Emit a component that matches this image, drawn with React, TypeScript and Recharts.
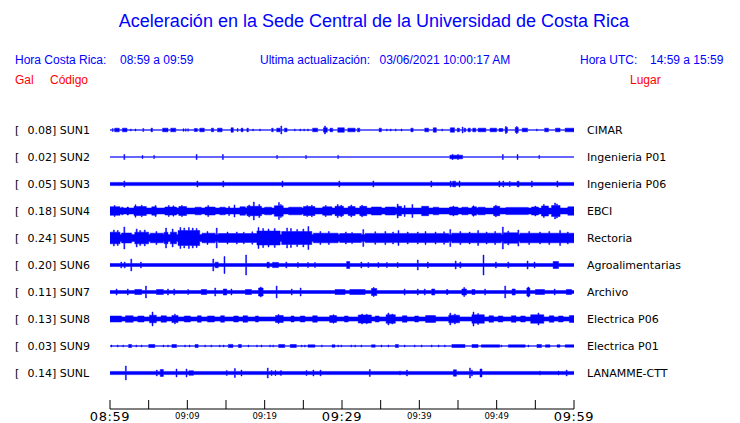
import React from 'react';
import { ComposedChart, Area, XAxis, YAxis } from 'recharts';

// ---- data ----
const codes = ['SUN1', 'SUN2', 'SUN3', 'SUN4', 'SUN5', 'SUN6', 'SUN7', 'SUN8', 'SUN9', 'SUNL'];
const galValues = ['0.08', '0.02', '0.05', '0.18', '0.24', '0.20', '0.11', '0.13', '0.03', '0.14'];
const places = ['CIMAR', 'Ingenieria P01', 'Ingenieria P06', 'EBCI', 'Rectoria', 'Agroalimentarias', 'Archivo', 'Electrica P06', 'Electrica P01', 'LANAMME-CTT'];
// half-width of the quiet band of each trace (counts)
const baseHalf = [0.35, 0.35, 1.6, 3.0, 3.4, 1.5, 1.5, 2.1, 0.35, 1.6];

// events: [minute, halfAmp] (single spike) or [fromMinute, toMinute, halfAmp] (burst)
type Ev = number[];
const sun1: Ev[] = [
  [0.3, 0.4, 1.5], [0.6, 1.2, 1.8], [1.6, 2.2, 1.8], [2.7, 1], [3.3, 1], [4.3, 1.5], [5.3, 5.5, 1.8],
  [6.8, 7.5, 1.8], [7.85, 8.5, 1.8], [9.5, 1.2], [9.8, 1.2], [10.1, 1.2], [10.9, 11.3, 1.5], [11.6, 12.2, 1.8],
  [13.1, 13.4, 1.8], [13.9, 14.5, 1.8], [15.65, 15.95, 2.2], [16.5, 1.5], [16.95, 17.2, 1.8], [17.7, 17.9, 1.8],
  [18.5, 1], [19.4, 1], [20.9, 21.1, 1.8], [21.55, 22, 1.8], [22.15, 4], [22.55, 22.9, 1.8], [23.9, 1], [24.6, 1],
  [25.1, 1], [25.6, 1], [26.2, 26.85, 1.8], [27.6, 28.1, 2.2], [27.8, 4], [28.45, 28.8, 1.8], [29.45, 30.3, 2.2],
  [30.75, 31.7, 1.8], [32.0, 32.3, 1.8], [34.8, 35.1, 1.8], [35.8, 1], [36.3, 1], [36.95, 1], [37.7, 1],
  [38.9, 39.2, 1.8], [40.7, 41.2, 1.8], [41.8, 42.2, 2.2], [42.95, 1], [44.0, 44.55, 2.2], [44.9, 45.2, 1.8],
  [45.6, 3], [45.8, 46.0, 1.8], [46.3, 46.6, 1.8], [46.9, 47.3, 1.8], [47.6, 48.6, 1.8], [49.15, 50.0, 1.8],
  [50.3, 50.8, 1.5], [51.1, 51.4, 2.5], [51.2, 3.5], [52.4, 52.8, 2.5], [52.6, 3.5], [53.3, 54, 1.8], [55.2, 1],
  [56.2, 56.7, 1.8], [57.6, 58.2, 1.8], [58.85, 60, 1.8],
];
const sun2: Ev[] = [
  [1.85, 2.5], [4.2, 1.5], [5.7, 1.5], [11.2, 2.5], [14.6, 2.5], [21.6, 1.5], [25.35, 1.5], [29.5, 1.5],
  [43.95, 45.6, 1.8], [44.3, 2.5], [45.0, 2.5], [50.8, 2.5], [52.7, 2.5], [55.5, 1.5],
];
const sun3: Ev[] = [
  [1.85, 3], [11.3, 3], [14.65, 3], [22.3, 3], [29.65, 3], [34.05, 3], [41.55, 3], [44.05, 3],
  [44.3, 44.7, 2.8], [45.2, 3], [50.35, 3], [50.85, 3], [51.7, 2.5], [52.65, 52.9, 2.8], [54.55, 3], [57.85, 3],
];
const sun4: Ev[] = [
  [0, 1.3, 4.3], [0.6, 5.5], [1.5, 1.7, 3.8], [2.2, 2.4, 4], [3.1, 4.7, 4.5], [3.3, 6.2], [4.1, 5.8],
  [5.4, 6, 4.2], [5.9, 5.5], [7.1, 8.6, 4], [7.6, 5.5], [8.2, 5.2], [8.9, 9.9, 4.5], [9.3, 5.6],
  [11, 11.8, 3.8], [12.3, 13.6, 4], [12.7, 5.5], [14.2, 14.9, 3.8], [15.4, 4.5], [16.1, 6], [16.8, 17.5, 4.2],
  [17.7, 19.6, 4.7], [18.0, 6], [18.6, 9], [19.3, 6.5], [20, 20.9, 3.8], [21.25, 22.4, 5.2], [21.85, 8.5],
  [22.1, 6.5], [23.1, 24.8, 3.8], [25, 26.5, 4.5], [25.5, 5.5], [26.1, 5.8], [27.5, 28.7, 4.2], [27.9, 5.5],
  [29.1, 30.2, 4.7], [29.45, 6.5], [29.9, 5.8], [30.8, 31.7, 4.5], [31.2, 6], [32.3, 33.2, 4.7], [32.6, 5.8],
  [33.8, 35.1, 4], [35.6, 36.9, 4], [37.1, 37.7, 4.7], [37.2, 7], [38.1, 5.5], [39.1, 6.5],
  [40.3, 41.2, 4.7], [41.8, 42.5, 3.8], [43.9, 45, 4], [44.4, 5], [45.5, 46.3, 3.8], [46.8, 47.4, 4.2], [47, 5.2],
  [47.6, 48.5, 3.8], [49.6, 50.4, 4.7], [49.9, 5.8], [51.2, 54.1, 3.6], [54.5, 55.4, 4], [55, 5],
  [55.8, 56.7, 5], [56.1, 6.5], [57.1, 58.2, 5.5], [57.55, 8], [57.8, 7], [59.2, 60, 4.2],
];
const sun5: Ev[] = [
  [0, 1.3, 5.8], [0.5, 8], [1.0, 7.5], [1.85, 11], [1.5, 2.8, 5], [3.2, 5, 5.8], [3.45, 9], [3.9, 7.5],
  [4.5, 8], [5.2, 6.9, 4.8], [6, 6.5], [7.0, 7.5, 5.8], [7.25, 10], [7.8, 8.6, 5.8], [8.1, 9],
  [8.8, 11.6, 7.5], [9.1, 10.5], [9.6, 10], [10.2, 10.5], [10.7, 10], [11.2, 9.5], [11.9, 13.6, 4.8],
  [12.6, 6.5], [13.8, 10], [14, 19, 4.5], [15.2, 6], [16.4, 6], [17.3, 5.8], [18.4, 6.2], [19, 22, 7],
  [19.2, 10.5], [19.8, 9.5], [20.5, 9], [21.3, 9.5], [21.8, 7], [22.2, 26.1, 6.5], [22.9, 10], [23.4, 9.5],
  [24.2, 8.5], [25, 9], [25.65, 11.5], [26.3, 29.5, 4.8], [27.2, 6.5], [28.3, 6.5], [29.7, 32.5, 4.5],
  [30.5, 6], [31.3, 5.5], [32.75, 8.5], [33, 43.8, 4.6], [34.3, 6.3], [35.6, 6.5], [36.6, 6], [37.3, 7.5],
  [38.5, 6], [39.8, 6], [40.8, 6.5], [42.1, 6], [43.2, 6.2], [44, 8.5], [44.2, 50.6, 4.8], [45.3, 6.5],
  [46.5, 6], [47.6, 7.5], [48.7, 6], [49.8, 6.5], [50.8, 11], [50.9, 52.8, 5.2], [51.5, 7], [52.8, 8],
  [53, 60, 4.8], [54.2, 6.5], [55.6, 6], [56.8, 6.5], [58.2, 7.5], [59.2, 6],
];
const sun6: Ev[] = [
  [1.45, 3], [1.9, 3], [2.75, 6], [4, 3], [13.35, 6], [13.6, 14.0, 2.8], [14.8, 8.5], [17.6, 10],
  [20.3, 20.6, 2.8], [21.0, 21.8, 2.6], [22.8, 3], [24.3, 2.5], [25.6, 2.5], [26.5, 2.5], [30.6, 31, 3.5],
  [32.5, 3], [33.4, 2.5], [34.7, 2.5], [35.8, 2.5], [37.2, 2.5], [39.8, 5], [41.1, 3], [44.7, 4], [45.3, 3],
  [48.3, 10], [49.9, 3], [51.5, 3], [54, 4], [54.9, 3], [57.3, 58, 3.5],
];
const sun7: Ev[] = [
  [0.85, 3], [2.3, 3], [3.2, 4.1, 2.5], [4.65, 6], [6.0, 6.9, 2.5], [7.5, 3], [8.3, 3], [10.1, 2.5],
  [11.8, 12.5, 2.5], [13.6, 4], [14.65, 15.1, 3], [15.7, 3], [17.5, 18.3, 2.5], [19.2, 19.8, 4], [19.5, 5],
  [21.55, 6], [23.5, 3], [24.65, 4], [29.1, 30.4, 2.5], [31.0, 33.0, 2.5], [33.8, 34.5, 3.5], [34.1, 4.5],
  [38.1, 3], [39.8, 3], [40.7, 3], [41.6, 42, 3], [43.5, 43.7, 2.5], [45.5, 46.1, 3], [45.8, 4.5],
  [46.8, 47.2, 2.5], [48.5, 3], [51.1, 6], [52, 52.4, 3], [53.9, 54.3, 4], [54.1, 5], [55, 56.2, 2.5],
  [57.5, 3], [59.0, 59.7, 2.5],
];
const sun8: Ev[] = [
  [0, 1.5, 3], [2.0, 3.0, 3.2], [3.6, 4.4, 3], [5.1, 6.0, 3.8], [5.5, 7], [6.6, 7.3, 3.2], [8.0, 8.8, 3.6],
  [8.4, 4.8], [9.6, 10.4, 3], [11.3, 11.8, 3.2], [12.6, 13.5, 3], [14.3, 14.8, 3.2], [16.0, 16.6, 3],
  [17.2, 17.8, 3.2], [18.8, 19.2, 3], [21.4, 22.4, 3.5], [21.8, 4.5], [23.4, 23.8, 3], [24.6, 25.2, 3],
  [26.2, 26.8, 3.2], [28.4, 29.3, 3.4], [28.9, 4.2], [30.3, 30.8, 3], [32.1, 33.8, 4], [32.6, 5],
  [33.2, 4.8], [34.3, 34.8, 3], [35.7, 36.9, 4.2], [36, 6], [36.5, 5], [37.8, 38.4, 3.2], [39.4, 39.9, 3],
  [40.8, 42.1, 3.4], [43.8, 45.2, 3.8], [44, 6], [44.6, 5], [46.8, 48.4, 4.2], [47, 7], [47.6, 5.5],
  [49.0, 49.6, 3.2], [50.2, 50.8, 3], [51.9, 52.5, 3.2], [53.1, 53.7, 3], [54.4, 56.1, 4.2], [55.4, 6],
  [56.8, 57.4, 3.2], [58.0, 58.6, 3], [59.4, 60, 3.4],
];
const sun9: Ev[] = [
  [0.2, 1], [1.0, 1], [1.7, 1], [2.4, 2.8, 1.5], [3.4, 1], [4.1, 1], [5.0, 5.8, 1.5], [6.9, 1], [7.5, 1],
  [8.0, 8.6, 1.5], [9.7, 1], [10.3, 1], [11.0, 11.4, 1.5], [12.3, 1], [13.1, 1], [14.2, 1], [14.7, 1],
  [15.3, 15.9, 1.6], [16.6, 17.0, 1.5], [17.9, 1], [19.0, 1], [19.6, 1], [20.7, 1], [21.1, 1],
  [21.8, 22.6, 1.5], [23.3, 24.1, 1.5], [24.8, 1], [25.2, 1], [25.6, 26.5, 1.2], [27.4, 1], [28.7, 29.1, 1.2],
  [29.5, 1], [29.9, 1], [31.2, 1], [31.7, 1], [32.5, 1], [33.8, 34.3, 1.2], [35.1, 1], [36.0, 1],
  [36.9, 37.3, 1.5], [38.1, 1], [39.4, 1], [40.3, 1], [41.6, 1], [42.5, 1], [43.3, 1], [44.2, 45.9, 1.5],
  [46.8, 47.6, 1.5], [48.0, 50.4, 1.2], [50.6, 1], [51.5, 53.7, 1.2], [54.1, 1], [55.2, 55.8, 1.5],
  [56.3, 56.9, 1.2], [57.8, 58.2, 1.2], [58.85, 60, 1.2],
];
const sunL: Ev[] = [
  [2.05, 7], [6.05, 3], [6.5, 6.9, 3.5], [8.6, 4], [9.9, 4], [10.2, 10.8, 2.3], [15.1, 2.5], [16.15, 4.5],
  [17.0, 3], [20.4, 5], [20.9, 2.5], [21.4, 2.5], [22.0, 22.2, 2.3], [25.4, 2.5], [26.3, 3], [27.15, 27.3, 2.8],
  [33.6, 3.5], [37.5, 2], [38.4, 3], [44.4, 44.8, 3.2], [46.55, 5], [46.8, 3], [47.85, 48.1, 4],
  [55.6, 2], [58.0, 2], [59.05, 3],
];
const traceEvents: Ev[][] = [sun1, sun2, sun3, sun4, sun5, sun6, sun7, sun8, sun9, sunL];

const timeTicks = [0, 5, 10, 15, 20, 25, 30, 35, 40, 45, 50, 55, 60];
const timeLabels: Record<number, string> = { 0: '08:59', 10: '09:09', 20: '09:19', 30: '09:29', 40: '09:39', 50: '09:49', 60: '09:59' };
const majorTimes = [0, 30, 60];

// ---- layout constants ----
const SPACING = 27;
const SPIKE_W = 0.12;
const BLUE = '#0000ff';

function buildTrace(idx: number) {
  const center = (idx + 1) * SPACING;
  const base = baseHalf[idx];
  const iv = traceEvents[idx].map((e) => (e.length === 2 ? [e[0] - SPIKE_W / 2, e[0] + SPIKE_W / 2, e[1]] : e));
  const pts = new Set<number>([0, 60]);
  iv.forEach(([a, b]) => {
    pts.add(Math.max(0, a));
    pts.add(Math.min(60, b));
  });
  const sorted = Array.from(pts).sort((a, b) => a - b);
  return sorted.map((p) => {
    let v = base;
    iv.forEach(([a, b, amp]) => {
      if (p >= a && p < b) v = Math.max(v, amp);
    });
    return { t: p, r: [center - v, center + v] };
  });
}

const traceData = codes.map((_, i) => buildTrace(i));
const yTicks = codes.map((_, i) => (i + 1) * SPACING);

const LeftRightTick = (props: any) => {
  const { y, index } = props;
  const font = { fontFamily: 'DejaVu Sans', fontSize: 11, fill: '#000' } as const;
  return (
    <g>
      <text x={15} y={y + 4} style={font}>[</text>
      <text x={27.5} y={y + 4} style={font}>{`${galValues[index]}] ${codes[index]}`}</text>
      <text x={587} y={y + 4} style={font}>{places[index]}</text>
    </g>
  );
};

const TimeTick = (props: any) => {
  const { x, y, payload } = props;
  const v = payload.value as number;
  const label = timeLabels[v];
  const major = majorTimes.includes(v);
  return (
    <g>
      <line x1={x} y1={y - 9} x2={x} y2={y} stroke="#000" strokeWidth={1} />
      {label && (
        <text
          x={x}
          y={major ? y + 12 : y + 9.7}
          textAnchor="middle"
          style={{ fontFamily: 'DejaVu Sans', fontSize: major ? 13 : 8.5, fill: '#000', letterSpacing: major ? 0.6 : 0 }}
        >
          {label}
        </text>
      )}
    </g>
  );
};

const headerFont: React.CSSProperties = { position: 'absolute', fontFamily: '"Liberation Sans", Arial, sans-serif', fontSize: 12, color: BLUE, whiteSpace: 'nowrap', lineHeight: '14px' };

export default function App() {
  return (
    <div style={{ position: 'absolute', left: 0, top: 0, width: 740, height: 423, background: '#fff', overflow: 'hidden' }}>
      <div style={{ position: 'absolute', left: 0, width: 748, top: 11, textAlign: 'center', fontFamily: '"Liberation Sans", Arial, sans-serif', fontSize: 18, color: BLUE, lineHeight: '21px' }}>
        Aceleración en la Sede Central de la Universidad de Costa Rica
      </div>
      <div style={{ ...headerFont, left: 15, top: 53 }}>Hora Costa Rica:</div>
      <div style={{ ...headerFont, left: 120, top: 53 }}>08:59 a 09:59</div>
      <div style={{ ...headerFont, left: 260, top: 53 }}>Ultima actualización:</div>
      <div style={{ ...headerFont, left: 379.5, top: 53 }}>03/06/2021 10:00:17 AM</div>
      <div style={{ ...headerFont, left: 580, top: 53 }}>Hora UTC:</div>
      <div style={{ ...headerFont, left: 650, top: 53 }}>14:59 a 15:59</div>
      <div style={{ ...headerFont, left: 15, top: 73, color: '#ff0000' }}>Gal</div>
      <div style={{ ...headerFont, left: 50, top: 73, color: '#ff0000' }}>Código</div>
      <div style={{ ...headerFont, left: 630, top: 73, color: '#ff0000' }}>Lugar</div>
      <div style={{ position: 'absolute', left: 0, top: 0 }}>
        <ComposedChart width={740} height={423} margin={{ top: 103, right: 166, bottom: 0, left: 50 }}>
          <XAxis
            type="number"
            dataKey="t"
            domain={[0, 60]}
            ticks={timeTicks}
            interval={0}
            allowDataOverflow
            height={14}
            tickSize={0}
            tickMargin={0}
            tickLine={false}
            axisLine={{ stroke: '#000', strokeWidth: 1 }}
            tick={<TimeTick />}
          />
          <YAxis
            type="number"
            domain={[0, 306]}
            reversed
            ticks={yTicks}
            interval={0}
            width={60}
            axisLine={false}
            tickLine={false}
            tick={<LeftRightTick />}
            allowDataOverflow
          />
          {traceData.map((d, i) => (
            <Area
              key={codes[i]}
              data={d}
              dataKey="r"
              type="stepAfter"
              stroke={BLUE}
              strokeWidth={0.5}
              fill={BLUE}
              fillOpacity={1}
              dot={false}
              activeDot={false}
              isAnimationActive={false}
            />
          ))}
        </ComposedChart>
      </div>
    </div>
  );
}
